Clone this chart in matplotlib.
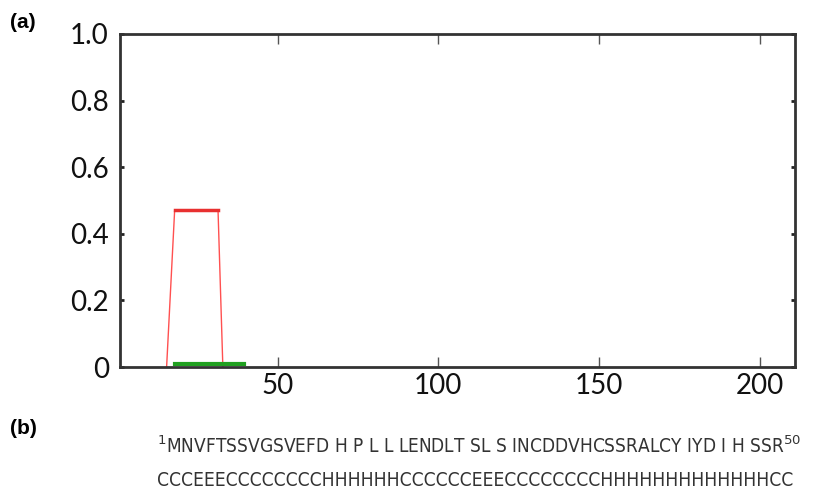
import matplotlib.pyplot as plt

# Profile (red) and detected segment (green)
pos_red = [15.5, 18, 31.5, 33]
score_red = [0.0, 0.47, 0.47, 0.0]
pos_green = [18, 39.5]
score_green = [0.01, 0.01]

xticks = [50, 100, 150, 200]
yticks = [0, 0.2, 0.4, 0.6, 0.8, 1.0]
ylabels = ["0", "0.2", "0.4", "0.6", "0.8", "1.0"]

seq = "MNVFTSSVGSVEFD H P L L LENDLT SL S INCDDVHCSSRALCY IYD I H SSR"
ss = "CCCEEECCCCCCCCHHHHHHCCCCCCEEECCCCCCCCHHHHHHHHHHHHHCC"

fig = plt.figure(figsize=(8.14, 5), dpi=100)
ax = fig.add_axes([120 / 814, 1 - 367 / 500, 675 / 814, 333 / 500])

ax.plot(pos_red, score_red, color="#ff5050", lw=1.0)
ax.plot(pos_red[1:3], score_red[1:3], color="#e83030", lw=2.5)
ax.plot(pos_green, score_green, color="#20a020", lw=3)

ax.set_xlim(1, 211)
ax.set_ylim(0, 1.0)
ax.set_xticks(xticks)
ax.set_yticks(yticks)
ax.set_yticklabels(ylabels)
for s in ax.spines.values():
    s.set_linewidth(2)
    s.set_color("#333333")
ax.tick_params(axis="x", direction="in", top=True, length=7, width=1, pad=4,
               labelsize=20, color="#555555")
ax.tick_params(axis="y", direction="in", right=True, length=3, width=2, pad=8,
               labelsize=20, color="#222222")
for lab in ax.get_xticklabels() + ax.get_yticklabels():
    lab.set_family("Lato")
    lab.set_color("#111111")

fig.text(10 / 814, 1 - 22 / 500, "(a)", fontsize=15, fontweight="bold",
         family="Liberation Sans", va="center")
fig.text(10 / 814, 1 - 428 / 500, "(b)", fontsize=15, fontweight="bold",
         family="Liberation Sans", va="center")

fig.text(157 / 814, 1 - 446 / 500, r"$^{1}$" + seq + r"$^{50}$", fontsize=13.7,
         family="DejaVu Sans", fontstretch="condensed", va="center",
         color="#333333")
fig.text(157 / 814, 1 - 480 / 500, ss, fontsize=13.8,
         family="DejaVu Sans", fontstretch="condensed", va="center",
         color="#333333")

fig.savefig("out.png", dpi=100)
